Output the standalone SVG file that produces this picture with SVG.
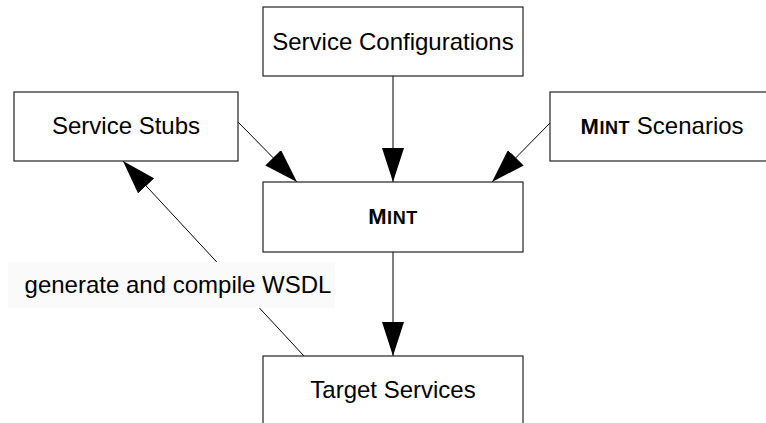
<svg xmlns="http://www.w3.org/2000/svg" width="766" height="423" viewBox="0 0 766 423">
  <style>
    .box { fill: #ffffff; stroke: #222222; stroke-width: 1.2; }
    .lbl { font-family: "Liberation Sans", Arial, sans-serif; font-size: 24px; fill: #000000; text-anchor: middle; }
    .sc { font-weight: bold; letter-spacing: 0.6px; }
    .big { font-size: 22px; }
    .small { font-size: 18px; }
    .edge { stroke: #000000; stroke-width: 1; fill: none; marker-end: url(#head); }
  </style>
  <defs>
    <marker id="head" markerUnits="userSpaceOnUse" markerWidth="34" markerHeight="22" refX="34" refY="11" orient="auto">
      <path d="M0,0 L34,11 L0,22 Z" fill="#000000"/>
    </marker>
  </defs>
  <rect width="766" height="423" fill="#ffffff"/>

  <!-- connectors -->
  <g id="connectors">
    <line class="edge" x1="393" y1="76" x2="393" y2="182"/>
    <line class="edge" x1="238" y1="122" x2="297" y2="182"/>
    <line class="edge" x1="550" y1="123" x2="492" y2="182"/>
    <line class="edge" x1="393" y1="252" x2="393" y2="356"/>
    <line class="edge" x1="304" y1="356" x2="123" y2="161"/>
  </g>

  <!-- label on the WSDL connector -->
  <g id="label-wsdl">
    <rect x="8" y="262" width="327" height="46" fill="#fafafa"/>
    <text class="lbl" x="178" y="293" font-size="22">generate and compile WSDL</text>
  </g>

  <g id="node-config">
    <rect class="box" x="263" y="7" width="260" height="69"/>
    <text class="lbl" x="393" y="50">Service Configurations</text>
  </g>

  <g id="node-stubs">
    <rect class="box" x="14" y="92" width="224" height="69"/>
    <text class="lbl" x="126" y="134">Service Stubs</text>
  </g>

  <g id="node-scenarios">
    <rect class="box" x="550" y="92" width="226" height="69"/>
    <text class="lbl" x="662" y="134"><tspan class="sc big">M</tspan><tspan class="sc small">INT</tspan> Scenarios</text>
  </g>

  <g id="node-mint">
    <rect class="box" x="263" y="182" width="260" height="70"/>
    <text class="lbl" x="393" y="224"><tspan class="sc big">M</tspan><tspan class="sc small">INT</tspan></text>
  </g>

  <g id="node-target">
    <rect class="box" x="263" y="356" width="260" height="80"/>
    <text class="lbl" x="393" y="398">Target Services</text>
  </g>
</svg>
